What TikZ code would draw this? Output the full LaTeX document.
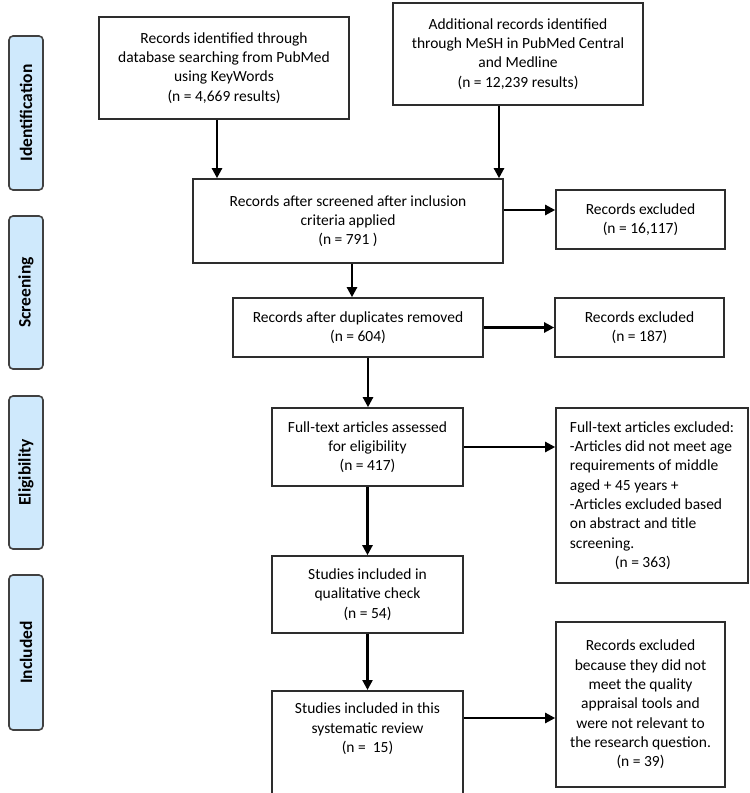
\documentclass[tikz,border=0pt]{standalone}
\usepackage{fontspec}
\setmainfont{Carlito}
\usetikzlibrary{arrows.meta}
\definecolor{tabfill}{RGB}{207,233,252}
\definecolor{tabline}{RGB}{64,64,64}
\definecolor{boxc}{RGB}{45,45,45}
\begin{document}
\begin{tikzpicture}[x=1pt,y=-1pt,
 boxtxt/.style={align=center, inner sep=2pt, font=\fontsize{15.5}{19.3}\selectfont},
 box/.style={boxtxt, draw=boxc, line width=1.6pt, fill=white},
 tab/.style={draw=tabline, line width=1.6pt, fill=tabfill, rounded corners=4pt, minimum height=34pt, rotate=90, inner sep=0pt, font=\bfseries\fontsize{17.5}{20}\selectfont},
 arr/.style={line width=2.3pt, -{Triangle[length=10pt,width=10pt]}}]
\useasboundingbox (0,0) rectangle (750,793);
\clip (0,0) rectangle (750,793);
% phase tabs
\node[tab, minimum width=154pt] (tid) at (26,113) {Identification};
\node[tab, minimum width=153pt] (tsc) at (26,292.5) {Screening};
\node[tab, minimum width=153pt] (tel) at (26,472.5) {Eligibility};
\node[tab, minimum width=155pt] (tin) at (26,652.5) {Included};
% boxes
\node[box, minimum width=250pt, minimum height=102pt] (id1) at (224,68) {Records identified through\\database searching from PubMed\\using KeyWords\\(n = 4,669 results)};
\node[box, minimum width=250pt, minimum height=102pt] (id2) at (518,54) {Additional records identified\\through MeSH in PubMed Central\\and Medline\\(n = 12,239 results)};
\node[box, minimum width=310pt, minimum height=84pt] (scr) at (348,221) {Records after screened after inclusion\\criteria applied\\(n = 791~)};
\node[box, minimum width=169pt, minimum height=59pt] (ex1) at (640.5,219.5) {Records excluded\\(n = 16,117)};
\node[box, minimum width=250pt, minimum height=59pt] (dup) at (358,327.5) {Records after duplicates removed\\(n = 604)};
\node[box, minimum width=169pt, minimum height=59pt] (ex2) at (639.5,327.5) {Records excluded\\(n = 187)};
\node[box, minimum width=191pt, minimum height=78pt] (ft) at (367.5,447) {Full-text articles assessed\\for eligibility\\(n = 417)};
\node[box, minimum width=192pt, minimum height=175pt, align=left] (ex3) at (652,495.5) {Full-text articles excluded:\\-Articles did not meet age\\requirements of middle\\aged + 45 years +\\-Articles excluded based\\on abstract and title\\screening.\\\hspace*{45pt}(n = 363)};
\node[box, minimum width=191pt, minimum height=77pt] (qual) at (367.5,594.5) {Studies included in\\qualitative check\\(n = 54)};
\node[box, minimum width=191pt, minimum height=120pt, anchor=north] (sys) at (367.5,690) {};
\node[boxtxt, anchor=north] (systxt) at ([yshift=-11pt]sys.north) {Studies included in this\\systematic review\\(n = ~15)};
\node[box, minimum width=169pt, minimum height=165pt] (ex4) at (640.5,704.5) {Records excluded\\because they did not\\meet the quality\\appraisal tools and\\were not relevant to\\the research question.\\(n = 39)};
% connectors
\draw[arr] ([xshift=-7pt]id1.south) -- ([xshift=-7pt]id1.south |- scr.north);
\draw[arr] ([xshift=-19pt]id2.south) -- ([xshift=-19pt]id2.south |- scr.north);
\draw[arr] ([xshift=4pt]scr.south) -- ([xshift=4pt]scr.south |- dup.north);
\draw[arr] ([xshift=10pt]dup.south) -- ([xshift=10pt]dup.south |- ft.north);
\draw[arr] (ft.south) -- (qual.north);
\draw[arr] (qual.south) -- (qual.south |- sys.north);
\draw[arr] ([yshift=11pt]scr.east) -- ([yshift=11pt]scr.east -| ex1.west);
\draw[arr] (dup.east) -- (dup.east -| ex2.west);
\draw[arr] (ft.east) -- (ft.east -| ex3.west);
\draw[arr] ([yshift=-28pt]sys.north east) -- ([yshift=-28pt]sys.north east -| ex4.west);
\end{tikzpicture}
\end{document}
